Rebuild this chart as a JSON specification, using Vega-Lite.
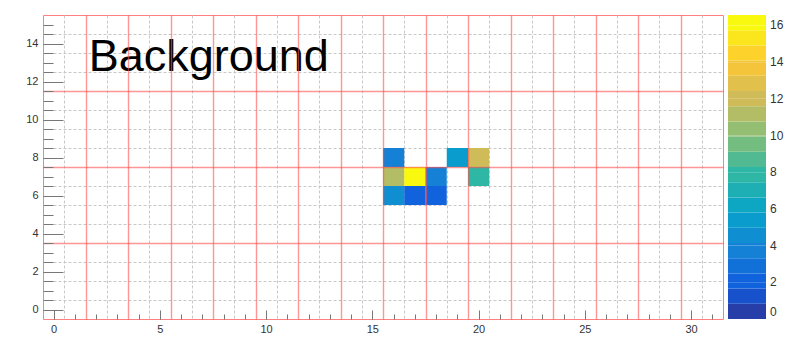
{
  "$schema": "https://vega.github.io/schema/vega-lite/v6.json",
  "width": 680,
  "height": 304,
  "autosize": {"type": "none"},
  "padding": {"left": 43, "top": 15, "right": 64, "bottom": 23},
  "background": "white",
  "config": {
    "view": {"stroke": "#ff8080", "strokeWidth": 1},
    "font": "Liberation Sans",
    "axis": {"labelFont": "Liberation Sans", "labelFontSize": 11, "labelColor": "#333333", "domain": false, "title": null}
  },
  "datasets": {
    "cells": [
      {"x": 16, "y": 8, "z": 3.7},
      {"x": 19, "y": 8, "z": 5.4},
      {"x": 20, "y": 8, "z": 12.0},
      {"x": 16, "y": 7, "z": 11.2},
      {"x": 17, "y": 7, "z": 16.2},
      {"x": 18, "y": 7, "z": 3.7},
      {"x": 20, "y": 7, "z": 7.9},
      {"x": 16, "y": 6, "z": 4.6},
      {"x": 17, "y": 6, "z": 2.1},
      {"x": 18, "y": 6, "z": 2.1}
    ],
    "label": [{"label": "Background", "x": 1.65, "y": 12.56}]
  },
  "layer": [
    {
      "data": {"name": "cells"},
      "mark": {"type": "point", "opacity": 0},
      "encoding": {
        "x": {"field": "x", "type": "quantitative", "scale": {"domain": [-0.5, 31.5], "nice": false, "zero": false},
              "axis": {"orient": "bottom", "grid": true, "gridColor": "#c8c8c8", "gridDash": [3, 2], "gridWidth": 1, "ticks": false, "labels": false, "values": [0.5, 2.5, 4.5, 6.5, 8.5, 10.5, 12.5, 14.5, 16.5, 18.5, 20.5, 22.5, 24.5, 26.5, 28.5, 30.5], "zindex": 0}},
        "y": {"field": "y", "type": "quantitative", "scale": {"domain": [-0.5, 15.5], "nice": false, "zero": false},
              "axis": {"orient": "left", "grid": true, "gridColor": "#c8c8c8", "gridDash": [3, 2], "gridWidth": 1, "ticks": false, "labels": false, "values": [0.5, 1.5, 2.5, 4.5, 5.5, 6.5, 8.5, 9.5, 10.5, 12.5, 13.5, 14.5], "zindex": 0}}
      }
    },
    {
      "data": {"name": "cells"},
      "mark": {"type": "rect", "width": 21.25, "height": 19},
      "encoding": {
        "x": {"field": "x", "type": "quantitative",
              "axis": {"orient": "bottom", "grid": false, "ticks": false, "labelPadding": 4, "values": [0, 5, 10, 15, 20, 25, 30]}},
        "y": {"field": "y", "type": "quantitative",
              "axis": {"orient": "left", "grid": false, "ticks": false, "labelPadding": 5, "values": [0, 2, 4, 6, 8, 10, 12, 14]}},
        "color": {"field": "z", "type": "quantitative",
          "scale": {"type": "quantize", "domain": [0, 16.57], "nice": false,
            "range": ["#273da7", "#1751cb", "#1063dc", "#1271d9", "#1480d6", "#0f8ed1", "#099ccc", "#0da7c3", "#1dafb4", "#2db7a4", "#51ba92", "#73bd81", "#94be72", "#b2bd66", "#d0bb59", "#e1c04b", "#f4c53b", "#fdd22b", "#fbe61d", "#f9f90f"]},
          "legend": {"type": "gradient", "title": null, "orient": "right", "offset": 5, "padding": 0, "direction": "vertical",
            "gradientLength": 304, "gradientThickness": 38, "gradientStrokeWidth": 0,
            "values": [0, 0.829, 1.658, 2, 2.486, 3.315, 4, 4.143, 4.972, 5.8, 6, 6.629, 7.457, 8, 8.286, 9.114, 9.943, 10, 10.771, 11.6, 12, 12.428, 13.257, 14, 14.085, 14.914, 15.742, 16],
            "labelExpr": "datum.value % 2 == 0 ? format(datum.value, 'd') : ''",
            "labelFont": "Liberation Sans", "labelFontSize": 12, "labelColor": "#333333", "labelOffset": 4, "labelOverlap": false}}
      }
    },
    {
      "data": {"name": "cells"},
      "mark": {"type": "point", "opacity": 0},
      "encoding": {
        "x": {"field": "x", "type": "quantitative",
              "axis": {"orient": "bottom", "grid": true, "gridColor": "#ff5050", "gridOpacity": 0.6, "gridWidth": 1.4, "ticks": false, "labels": false, "values": [1.5, 3.5, 5.5, 7.5, 9.5, 11.5, 13.5, 15.5, 17.5, 19.5, 21.5, 23.5, 25.5, 27.5, 29.5], "zindex": 1}},
        "y": {"field": "y", "type": "quantitative",
              "axis": {"orient": "left", "grid": true, "gridColor": "#ff5050", "gridOpacity": 0.6, "gridWidth": 1.4, "ticks": false, "labels": false, "values": [3.5, 7.5, 11.5], "zindex": 1}}
      }
    },
    {
      "data": {"name": "cells"},
      "mark": {"type": "point", "opacity": 0},
      "encoding": {
        "x": {"field": "x", "type": "quantitative",
              "axis": {"orient": "bottom", "grid": false, "labels": false, "ticks": true, "tickSize": -9, "tickColor": "#777777", "tickWidth": 1, "values": [0, 5, 10, 15, 20, 25, 30], "zindex": 1}},
        "y": {"field": "y", "type": "quantitative",
              "axis": {"orient": "left", "grid": false, "labels": false, "ticks": true, "tickSize": -20, "tickColor": "#777777", "tickWidth": 1, "values": [0, 2, 4, 6, 8, 10, 12, 14], "zindex": 1}}
      }
    },
    {
      "data": {"name": "cells"},
      "mark": {"type": "point", "opacity": 0},
      "encoding": {
        "x": {"field": "x", "type": "quantitative",
              "axis": {"orient": "bottom", "grid": false, "labels": false, "ticks": true, "tickSize": -5, "tickColor": "#777777", "tickWidth": 1, "values": [0, 1, 2, 3, 4, 5, 6, 7, 8, 9, 10, 11, 12, 13, 14, 15, 16, 17, 18, 19, 20, 21, 22, 23, 24, 25, 26, 27, 28, 29, 30, 31], "zindex": 1}},
        "y": {"field": "y", "type": "quantitative",
              "axis": {"orient": "left", "grid": false, "labels": false, "ticks": true, "tickSize": -10, "tickColor": "#777777", "tickWidth": 1, "values": [0, 0.5, 1, 1.5, 2, 2.5, 3, 3.5, 4, 4.5, 5, 5.5, 6, 6.5, 7, 7.5, 8, 8.5, 9, 9.5, 10, 10.5, 11, 11.5, 12, 12.5, 13, 13.5, 14, 14.5, 15], "zindex": 1}}
      }
    },
    {
      "data": {"name": "label"},
      "mark": {"type": "text", "font": "Liberation Sans", "fontSize": 45, "align": "left", "baseline": "alphabetic", "color": "black"},
      "encoding": {
        "x": {"field": "x", "type": "quantitative", "axis": null},
        "y": {"field": "y", "type": "quantitative", "axis": null},
        "text": {"field": "label"}
      }
    }
  ],
  "resolve": {"axis": {"x": "independent", "y": "independent"}}
}
